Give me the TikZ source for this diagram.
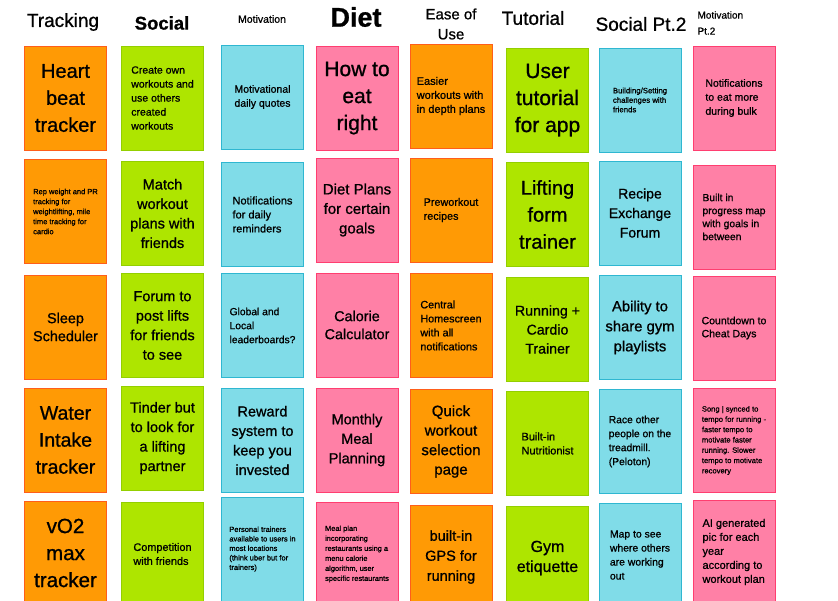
\documentclass[tikz,border=0pt]{standalone}
\usepackage{fontspec}
\setmainfont{Liberation Sans}[FakeBold=0.9]
\usetikzlibrary{positioning}

\definecolor{noteorange}{HTML}{FF9A05}
\definecolor{noteorangeline}{HTML}{FF5E1A}
\definecolor{notegreen}{HTML}{AEE500}
\definecolor{notegreenline}{HTML}{93CF00}
\definecolor{notecyan}{HTML}{80DCE8}
\definecolor{notecyanline}{HTML}{2FB7D1}
\definecolor{notepink}{HTML}{FF80A6}
\definecolor{notepinkline}{HTML}{FF3E70}

\begin{document}
\begin{tikzpicture}[
  x=1pt, y=-1pt,
  note/.style={rectangle, draw, line width=0.8pt, minimum width=82pt, minimum height=104pt,
               inner sep=2pt, text=black},
  trk/.style={note, fill=noteorange, draw=noteorangeline},
  soc/.style={note, fill=notegreen, draw=notegreenline},
  mot/.style={note, fill=notecyan, draw=notecyanline},
  dit/.style={note, fill=notepink, draw=notepinkline},
  bigtxt/.style={align=center, font=\fontsize{20}{27}\selectfont},
  midtxt/.style={align=center, font=\fontsize{14.5}{19.5}\selectfont},
  smalltxt/.style={align=left, font=\fontsize{10.5}{14}\selectfont},
  tinytxt/.style={align=left, font=\fontsize{7.5}{10}\selectfont},
  head/.style={font=\fontsize{19}{22}\selectfont},
]
\useasboundingbox (0,0) rectangle (838,600);
\clip (0,0) rectangle (838,600);

%% Column headings
\node[head]                                     (hTrack) at (63,22)  {Tracking};
\node[head, font=\fontsize{18.5}{22}\selectfont\bfseries] (hSoc) at (162,23) {Social};
\node[font=\fontsize{10.5}{12}\selectfont]      (hMot)   at (262,19) {Motivation};
\node[font=\fontsize{27}{30}\selectfont\bfseries] (hDiet) at (356,17) {Diet};
\node[align=center, font=\fontsize{15}{20}\selectfont] (hEase) at (451,24) {Ease of\\Use};
\node[head]                                     (hTut)   at (533,18) {Tutorial};
\node[head]                                     (hSoc2)  at (641,24) {Social Pt.2};
\node[align=left, anchor=west, font=\fontsize{10}{16}\selectfont] (hMot2) at (694,23) {Motivation\\Pt.2};

%% Row 1
\node[trk, bigtxt]   (trk1)  at (65.5,98)  {Heart\\beat\\tracker};
\node[soc, smalltxt] (soc1)  at (162.5,98) {Create own\\workouts and\\use others\\created\\workouts};
\node[mot, smalltxt, align=center] (mot1) at (262.5,97) {Motivational\\daily quotes};
\node[dit, bigtxt, font=\fontsize{21}{27}\selectfont] (dit1) at (357,98) {How to\\eat\\right};
\node[trk, smalltxt, font=\fontsize{11}{14}\selectfont] (ease1) at (451,96) {Easier\\workouts with\\in depth plans};
\node[soc, bigtxt, font=\fontsize{21}{27}\selectfont] (tut1) at (547.5,100) {User\\tutorial\\for app};
\node[mot, tinytxt, font=\fontsize{7.8}{9.5}\selectfont] (soctwo1) at (640,100) {Building/Setting\\challenges with\\friends};
\node[dit, smalltxt] (mottwo1) at (734,98) {Notifications\\to eat more\\during bulk};

%% Row 2
\node[trk, tinytxt]  (trk2)  at (65.5,211.5) {Rep weight and PR\\tracking for\\weightlifting, mile\\time tracking for\\cardio};
\node[soc, midtxt]   (soc2)  at (162.5,213.5) {Match\\workout\\plans with\\friends};
\node[mot, smalltxt, font=\fontsize{11}{14}\selectfont] (mot2) at (262.5,214.5) {Notifications\\for daily\\reminders};
\node[dit, midtxt, font=\fontsize{15}{19.5}\selectfont] (dit2) at (357,210) {Diet Plans\\for certain\\goals};
\node[trk, smalltxt, font=\fontsize{10.8}{14}\selectfont] (ease2) at (451,210) {Preworkout\\recipes};
\node[soc, bigtxt]   (tut2)  at (547.5,214.5) {Lifting\\form\\trainer};
\node[mot, midtxt, font=\fontsize{14}{19.5}\selectfont] (soctwo2) at (640,213) {Recipe\\Exchange\\Forum};
\node[dit, smalltxt, font=\fontsize{10.3}{13}\selectfont] (mottwo2) at (734,217) {Built in\\progress map\\with goals in\\between};

%% Row 3
\node[trk, midtxt, font=\fontsize{14.4}{18}\selectfont] (trk3) at (65.5,327) {Sleep\\Scheduler};
\node[soc, midtxt]   (soc3)  at (162.5,325.5) {Forum to\\post lifts\\for friends\\to see};
\node[mot, smalltxt, font=\fontsize{10.3}{14}\selectfont] (mot3) at (262.5,325.5) {Global and\\Local\\leaderboards?};
\node[dit, midtxt, font=\fontsize{14.4}{18}\selectfont] (dit3) at (357,325) {Calorie\\Calculator};
\node[trk, smalltxt, font=\fontsize{10.8}{14}\selectfont] (ease3) at (451,325.5) {Central\\Homescreen\\with all\\notifications};
\node[soc, midtxt, font=\fontsize{14.2}{19}\selectfont] (tut3) at (547.5,329.5) {Running +\\Cardio\\Trainer};
\node[mot, midtxt, font=\fontsize{14.8}{20}\selectfont] (soctwo3) at (640,327.5) {Ability to\\share gym\\playlists};
\node[dit, smalltxt, font=\fontsize{10.5}{13}\selectfont] (mottwo3) at (734,328) {Countdown to\\Cheat Days};

%% Row 4
\node[trk, bigtxt, font=\fontsize{19.5}{27}\selectfont] (trk4) at (65.5,440) {Water\\Intake\\tracker};
\node[soc, midtxt]   (soc4)  at (162.5,438) {Tinder but\\to look for\\a lifting\\partner};
\node[mot, midtxt]   (mot4)  at (262.5,440.5) {Reward\\system to\\keep you\\invested};
\node[dit, midtxt]   (dit4)  at (357,440) {Monthly\\Meal\\Planning};
\node[trk, midtxt, font=\fontsize{15}{19.5}\selectfont] (ease4) at (451,441.5) {Quick\\workout\\selection\\page};
\node[soc, smalltxt, font=\fontsize{11}{14}\selectfont] (tut4) at (547.5,443.5) {Built-in\\Nutritionist};
\node[mot, smalltxt, font=\fontsize{10.3}{14}\selectfont] (soctwo4) at (640,441.5) {Race other\\people on the\\treadmill.\\(Peloton)};
\node[dit, tinytxt, font=\fontsize{7.6}{10.3}\selectfont] (mottwo4) at (734,440.5) {Song | synced to\\tempo for running -\\faster tempo to\\motivate faster\\running. Slower\\tempo to motivate\\recovery};

%% Row 5 (cut off by the page edge)
\node[trk, bigtxt, font=\fontsize{20.5}{27}\selectfont] (trk5) at (65.5,553) {vO2\\max\\tracker};
\node[soc, smalltxt, font=\fontsize{10.9}{14}\selectfont] (soc5) at (162.5,554) {Competition\\with friends};
\node[mot, tinytxt, font=\fontsize{7.5}{9.5}\selectfont] (mot5) at (262.5,549) {Personal trainers\\available to users in\\most locations\\(think uber but for\\trainers)};
\node[dit, tinytxt, font=\fontsize{7.4}{10}\selectfont] (dit5) at (357,554) {Meal plan\\incorporating\\restaurants using a\\menu calorie\\algorithm, user\\specific restaurants};
\node[trk, midtxt, font=\fontsize{14.5}{20}\selectfont] (ease5) at (451,557) {built-in\\GPS for\\running};
\node[soc, midtxt, font=\fontsize{16}{20}\selectfont] (tut5) at (547.5,558) {Gym\\etiquette};
\node[mot, smalltxt, font=\fontsize{10.4}{14}\selectfont] (soctwo5) at (640,555) {Map to see\\where others\\are working\\out};
\node[dit, smalltxt, font=\fontsize{11}{14}\selectfont] (mottwo5) at (734,552) {AI generated\\pic for each\\year\\according to\\workout plan};

\end{tikzpicture}
\end{document}
